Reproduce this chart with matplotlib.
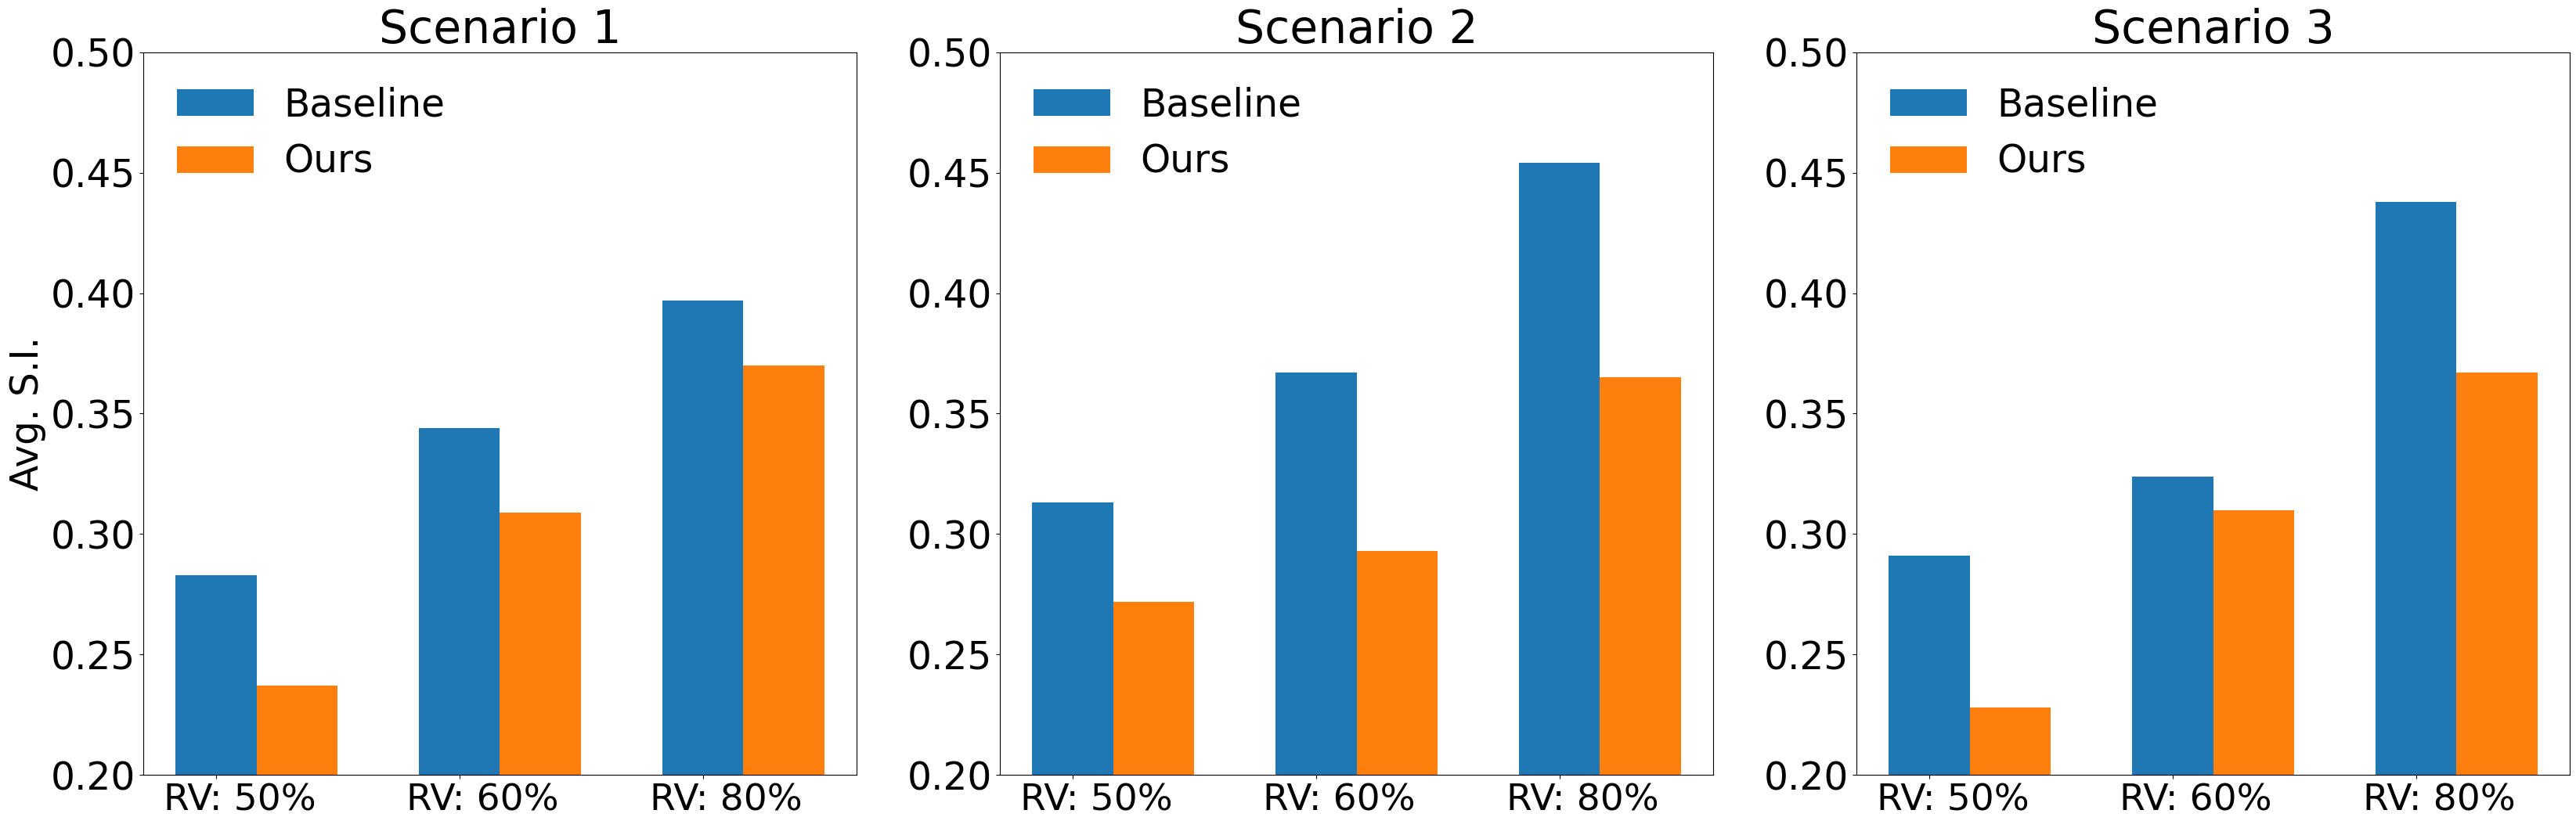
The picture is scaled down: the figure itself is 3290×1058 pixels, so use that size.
import numpy as np
import matplotlib
matplotlib.use("Agg")
import matplotlib.pyplot as plt
import matplotlib.transforms as mtransforms

categories = ["RV: 50%", "RV: 60%", "RV: 80%"]
scenarios = ["Scenario 1", "Scenario 2", "Scenario 3"]
baseline_s1 = [0.283, 0.344, 0.397]
ours_s1 = [0.237, 0.309, 0.370]
baseline_s2 = [0.313, 0.367, 0.454]
ours_s2 = [0.272, 0.293, 0.365]
baseline_s3 = [0.291, 0.324, 0.438]
ours_s3 = [0.228, 0.310, 0.367]
yticks = [0.20, 0.25, 0.30, 0.35, 0.40, 0.45, 0.50]

baselines = [baseline_s1, baseline_s2, baseline_s3]
ours_all = [ours_s1, ours_s2, ours_s3]

fig = plt.figure(figsize=(32.91, 10.58), dpi=100)
lefts = [0.05551, 0.38794, 0.72036]
w_ax = 0.2770
bottom = 0.0640
h_ax = 0.8730

x = np.arange(len(categories))
width = 0.333
fs = 35

for i, (title, b, o) in enumerate(zip(scenarios, baselines, ours_all)):
    ax = fig.add_axes([lefts[i], bottom, w_ax, h_ax])
    ax.bar(x, b, width, label="Baseline", color="#1f77b4")
    ax.bar(x + width, o, width, label="Ours", color="#ff7f0e")
    ax.set_xticks(x)
    ax.set_xticklabels(categories, fontsize=34)
    ax.set_ylim(0.2, 0.5)
    ax.set_yticks(yticks)
    ax.set_yticklabels([f"{v:.2f}" for v in yticks])
    ax.tick_params(axis="y", labelsize=fs)
    offset = mtransforms.ScaledTranslation(0.30, 0, fig.dpi_scale_trans)
    for lab in ax.get_xticklabels():
        lab.set_transform(lab.get_transform() + offset)
    ax.set_title(title, fontsize=42)
    ax.legend(loc="upper left", fontsize=fs, frameon=False)
    if i == 0:
        ax.set_ylabel("Avg. S.I.", fontsize=fs)

fig.savefig("out.png", dpi=100)
